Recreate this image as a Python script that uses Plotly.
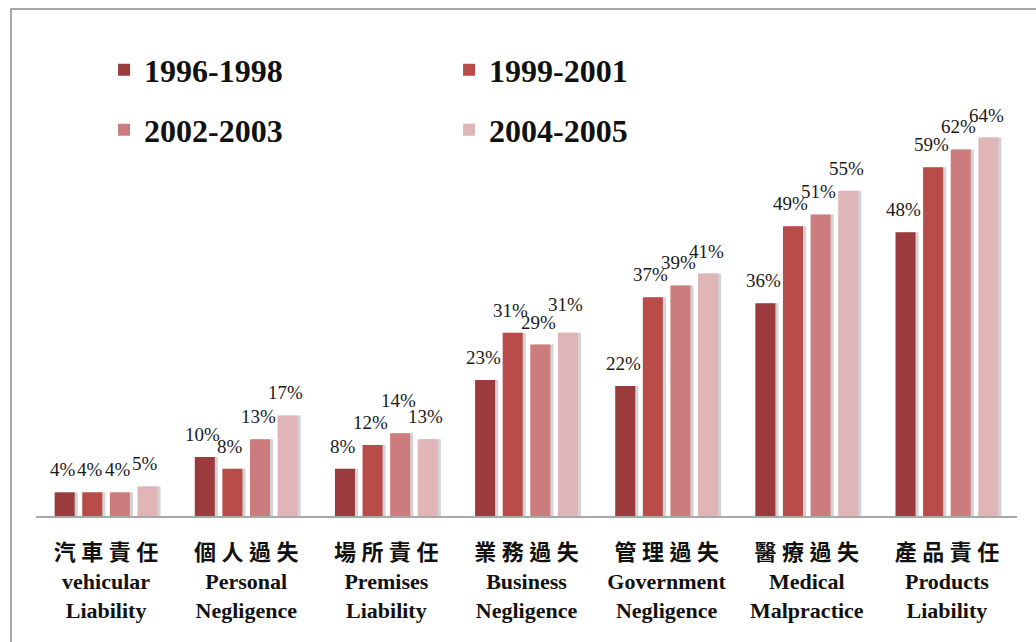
import plotly.graph_objects as go

# Liability claim categories (Chinese name, English name)
categories_zh = ["汽車責任", "個人過失", "場所責任", "業務過失", "管理過失", "醫療過失", "產品責任"]
categories_en = [
    "vehicular<br>Liability",
    "Personal<br>Negligence",
    "Premises<br>Liability",
    "Business<br>Negligence",
    "Government<br>Negligence",
    "Medical<br>Malpractice",
    "Products<br>Liability",
]

# Periods and their percentages per category
periods = ["1996-1998", "1999-2001", "2002-2003", "2004-2005"]
v_1996_1998 = [4, 10, 8, 23, 22, 36, 48]
v_1999_2001 = [4, 8, 12, 31, 37, 49, 59]
v_2002_2003 = [4, 13, 14, 29, 39, 51, 62]
v_2004_2005 = [5, 17, 13, 31, 41, 55, 64]

series = [v_1996_1998, v_1999_2001, v_2002_2003, v_2004_2005]
colors = ["#9c3b3d", "#b94b49", "#cc7c7c", "#e0b5b7"]

step = 0.197      # distance between neighbouring bars inside a group
bar_w = 0.143     # bar width in category units
shadow_dx = 0.022 # drop shadow offset

# extra lift (px) for labels that would collide with a neighbour
label_lift = {(2, 2): 10, (3, 3): 6}

x_base = list(range(len(categories_zh)))

fig = go.Figure()

# soft drop shadows behind each bar
for j, vals in enumerate(series):
    off = (j - 1.5) * step
    fig.add_trace(go.Bar(
        x=[i + off + shadow_dx for i in x_base], y=vals, width=bar_w,
        marker=dict(color="rgba(110,110,110,0.30)", line=dict(width=0)),
        showlegend=False, hoverinfo="skip",
    ))

# main bars
for j, (name, vals) in enumerate(zip(periods, series)):
    off = (j - 1.5) * step
    fig.add_trace(go.Bar(
        x=[i + off for i in x_base], y=vals, width=bar_w, name=name,
        marker=dict(color=colors[j], line=dict(width=0)),
        legend="legend" if j < 2 else "legend2",
    ))

# value labels above each bar
annotations = []
for j, vals in enumerate(series):
    off = (j - 1.5) * step
    for i, v in zip(x_base, vals):
        annotations.append(dict(
            x=i + off, y=v, xref="x", yref="y", text=f"{v}%",
            showarrow=False, yanchor="bottom",
            yshift=10 + label_lift.get((i, j), 0), xshift=-2,
            font=dict(family="Liberation Serif", size=19, color="#1a1a1a"),
        ))

ticktext = [
    f"<b>{' '.join(zh)}</b><br><b>{en}</b>" for zh, en in zip(categories_zh, categories_en)
]

legend_font = dict(family="Liberation Serif", size=32, color="#111111", weight="bold")

fig.update_layout(
    width=1036, height=642,
    margin=dict(l=36, r=19, t=43, b=126, autoexpand=False),
    paper_bgcolor="white", plot_bgcolor="white",
    barmode="overlay",
    xaxis=dict(
        range=[-0.5, 6.5], tickmode="array", tickvals=x_base, ticktext=ticktext,
        showline=True, linecolor="#a8a8a8", linewidth=2,
        showgrid=False, zeroline=False, ticks="", ticklabelstandoff=16,
        tickfont=dict(family="Liberation Serif, 'Noto Sans CJK TC'", size=22, color="#111111"),
        fixedrange=True,
    ),
    yaxis=dict(range=[0, 80], visible=False, fixedrange=True),
    legend=dict(
        orientation="h", x=0.0694, xanchor="left", y=0.943, yanchor="middle",
        font=legend_font, entrywidth=300, bgcolor="rgba(0,0,0,0)",
        traceorder="normal",
    ),
    legend2=dict(
        orientation="h", x=0.0694, xanchor="left", y=0.816, yanchor="middle",
        font=legend_font, entrywidth=300, bgcolor="rgba(0,0,0,0)",
        traceorder="normal",
    ),
    annotations=annotations,
    shapes=[dict(
        type="rect", xref="paper", yref="paper",
        x0=-0.0255, x1=1.2, y0=-0.5, y1=1.0719,
        line=dict(color="#8c8c8c", width=1.5), fillcolor="rgba(0,0,0,0)",
    )],
    showlegend=True,
)

fig.write_html("out.html")
